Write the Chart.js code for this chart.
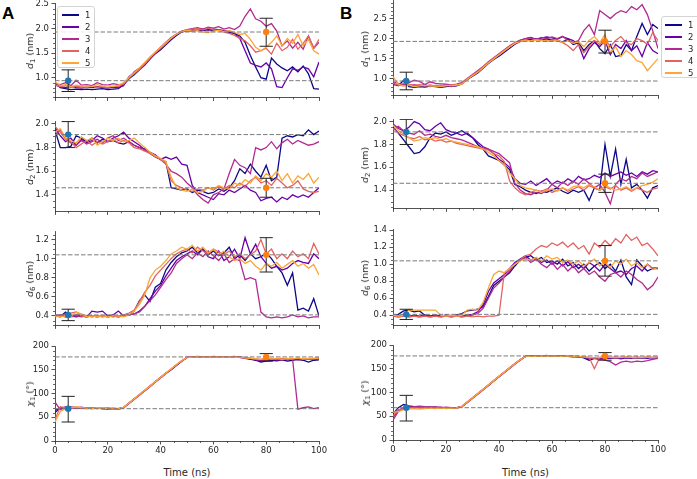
<!DOCTYPE html>
<html><head><meta charset="utf-8">
<script src="https://cdn.jsdelivr.net/npm/chart.js@4.4.0/dist/chart.umd.min.js"></script>
<style>
html,body{margin:0;padding:0;background:#fff;}
#fig{position:relative;width:697px;height:479px;overflow:hidden;background:#fff;font-family:'DejaVu Sans',sans-serif;color:#262626;}
#fig canvas{position:absolute;}
.ylab{position:absolute;font-size:9.5px;white-space:nowrap;transform:translate(-50%,-50%) rotate(-90deg);line-height:10px;}
.ylab sub{font-size:7px;vertical-align:-2px;line-height:0;}
.xlab{position:absolute;font-size:10px;white-space:nowrap;transform:translate(-50%,-50%);}
.letter{position:absolute;font-family:'Liberation Sans',Arial,sans-serif;font-weight:bold;font-size:17px;line-height:17px;color:#000;}
.legend{position:absolute;background:rgba(255,255,255,0.85);border:1px solid #d4d4d4;border-radius:3px;box-sizing:border-box;z-index:5;}
.legend .row{position:absolute;left:0;height:12px;width:100%;}
.legend .sw{position:absolute;top:5.5px;height:1.5px;width:17px;}
.legend .tx{position:absolute;top:0;font-size:8.5px;line-height:12px;color:#262626;}
</style>
</head><body>
<div id="fig">
  <div class="letter" style="left:2px;top:5px;">A</div>
  <div class="letter" style="left:340px;top:5px;">B</div>
</div>
<script>
// ---------- data ----------
const times = [0,2,4,6,8,10,12,14,16,18,20,22,24,26,28,30,32,34,36,38,40,42,44,46,48,50,52,54,56,58,60,62,64,66,68,70,72,74,76,78,80,82,84,86,88,90,92,94,96,98,100];
const runLabels = ['1','2','3','4','5'];
const runColors = ['#0d0887','#6a00a8','#b12a90','#e16462','#fca636'];
const xTicks = [0,20,40,60,80,100];

// d1, panel A
const a1_1 = [0.90,0.80,0.78,0.76,0.77,0.76,0.77,0.76,0.77,0.78,0.76,0.77,0.78,0.86,0.98,1.06,1.16,1.26,1.38,1.49,1.57,1.67,1.77,1.86,1.93,1.96,1.95,1.97,1.96,1.98,1.96,1.97,1.94,1.92,1.90,1.85,1.72,1.45,1.22,1.00,0.97,1.40,1.28,1.20,1.14,1.22,1.12,1.24,1.08,0.78,0.77];
const a1_2 = [0.85,0.82,0.80,0.83,0.80,0.79,0.81,0.80,0.82,0.80,0.79,0.81,0.80,0.84,1.02,1.10,1.18,1.30,1.40,1.50,1.60,1.70,1.79,1.88,1.94,1.97,1.98,1.96,1.99,1.97,1.99,1.98,1.96,1.95,1.90,1.80,1.55,1.30,1.25,1.22,1.30,1.18,0.82,0.80,1.00,1.18,1.15,1.22,1.18,1.02,1.32];
const a1_3 = [0.88,0.86,0.90,0.84,0.95,0.85,0.86,0.84,0.90,0.86,0.85,0.88,0.86,0.86,0.98,1.12,1.20,1.30,1.42,1.52,1.62,1.72,1.82,1.89,1.95,1.98,2.00,2.02,1.99,2.03,2.01,2.04,1.99,2.02,1.98,2.05,2.25,2.40,2.20,2.15,2.05,2.10,1.95,1.65,1.75,1.60,1.72,1.58,1.85,1.60,1.72];
const a1_4 = [0.86,0.82,0.84,0.80,0.83,0.82,0.80,0.83,0.81,0.82,0.80,0.83,0.82,0.88,1.00,1.08,1.17,1.28,1.40,1.51,1.60,1.69,1.80,1.88,1.94,1.97,1.99,2.00,1.97,2.01,1.98,1.96,1.93,1.90,1.86,1.80,1.75,1.65,1.52,1.55,1.60,1.48,1.70,1.55,1.62,1.78,1.58,1.70,1.85,1.60,1.78];
const a1_5 = [0.92,0.84,0.86,0.82,0.85,0.83,0.84,0.82,0.86,0.83,0.84,0.82,0.85,0.90,1.01,1.10,1.20,1.31,1.42,1.52,1.62,1.71,1.81,1.89,1.94,1.97,1.95,1.96,1.93,1.92,1.95,1.97,1.94,1.96,1.92,1.88,1.90,1.78,1.62,1.55,1.62,1.72,1.85,1.65,1.80,1.70,1.88,1.65,1.78,1.55,1.48];
// d1, panel B
const b1_1 = [0.88,0.82,0.96,0.80,0.78,0.80,0.79,0.81,0.80,0.78,0.80,0.82,0.82,0.88,0.97,1.06,1.14,1.26,1.38,1.48,1.56,1.66,1.76,1.86,1.93,1.97,1.98,2.00,1.96,1.99,1.97,1.95,1.92,1.98,1.85,1.90,1.70,1.85,1.95,1.75,1.62,1.85,1.55,1.58,1.85,1.70,2.05,2.38,2.10,2.35,2.25];
const b1_2 = [0.85,0.83,0.86,0.82,0.84,0.82,0.85,0.80,0.83,0.82,0.84,0.80,0.83,0.86,0.99,1.08,1.17,1.28,1.40,1.50,1.60,1.70,1.79,1.88,1.95,2.00,2.03,1.98,2.01,2.04,2.02,1.98,2.05,2.00,1.95,1.85,1.50,1.75,1.90,1.80,1.95,1.60,1.85,1.75,1.95,1.70,1.82,1.55,1.90,1.70,1.62];
const b1_3 = [0.92,0.88,0.85,0.90,0.96,0.93,0.85,0.92,0.88,0.87,0.86,0.84,0.86,0.90,1.00,1.10,1.20,1.30,1.42,1.52,1.62,1.72,1.82,1.90,1.96,2.00,2.02,1.98,2.03,2.00,2.04,2.00,2.06,1.95,1.90,1.95,2.20,2.35,2.10,2.70,2.60,2.50,2.62,2.70,2.65,2.80,2.72,2.85,2.60,2.20,1.75];
const b1_4 = [0.88,0.84,0.82,0.86,0.83,0.85,0.82,0.84,0.81,0.83,0.82,0.85,0.84,0.88,1.00,1.09,1.18,1.29,1.41,1.51,1.61,1.71,1.80,1.89,1.94,1.97,1.95,1.98,1.96,1.93,1.97,1.95,1.90,1.82,1.70,1.85,1.65,1.80,1.95,1.85,2.00,1.80,1.95,2.05,1.90,1.85,2.00,1.95,1.85,2.15,1.95];
const b1_5 = [1.05,0.86,0.82,0.84,0.80,0.82,0.83,0.81,0.82,0.80,0.83,0.82,0.84,0.86,0.98,1.07,1.16,1.27,1.39,1.49,1.59,1.69,1.79,1.88,1.93,1.96,1.94,1.97,1.95,1.96,1.93,1.96,1.90,1.95,1.88,1.92,1.80,1.95,2.05,1.90,2.10,1.65,1.80,1.55,1.70,1.60,1.45,1.40,1.20,1.35,1.50];

// d2, panel A
const a2_1 = [1.95,1.80,1.80,1.81,1.90,1.88,1.85,1.88,1.84,1.87,1.85,1.86,1.84,1.83,1.85,1.82,1.80,1.79,1.75,1.72,1.70,1.68,1.46,1.45,1.44,1.45,1.42,1.44,1.43,1.41,1.42,1.45,1.43,1.46,1.52,1.62,1.58,1.66,1.60,1.55,1.65,1.52,1.55,1.88,1.90,1.89,1.91,1.90,1.95,1.91,1.94];
const a2_2 = [1.97,1.90,1.85,1.88,1.82,1.87,1.84,1.86,1.90,1.88,1.85,1.88,1.90,1.93,1.88,1.85,1.82,1.78,1.76,1.74,1.70,1.72,1.70,1.72,1.66,1.65,1.48,1.42,1.40,1.38,1.36,1.41,1.40,1.44,1.42,1.45,1.48,1.44,1.42,1.35,1.37,1.38,1.34,1.38,1.36,1.40,1.38,1.40,1.38,1.42,1.46];
const a2_3 = [1.90,1.95,1.88,1.84,1.82,1.86,1.83,1.85,1.87,1.84,1.88,1.90,1.86,1.88,1.85,1.82,1.80,1.78,1.76,1.73,1.70,1.66,1.60,1.58,1.55,1.50,1.46,1.40,1.36,1.33,1.40,1.42,1.45,1.58,1.70,1.65,1.63,1.58,1.80,1.78,1.80,1.85,1.79,1.84,1.87,1.83,1.86,1.84,1.82,1.83,1.85];
const a2_4 = [1.98,1.93,1.87,1.85,1.80,1.83,1.86,1.82,1.85,1.83,1.85,1.87,1.84,1.86,1.84,1.80,1.79,1.77,1.75,1.72,1.70,1.67,1.52,1.48,1.46,1.44,1.43,1.45,1.44,1.46,1.44,1.47,1.45,1.48,1.46,1.50,1.47,1.52,1.55,1.50,1.52,1.48,1.54,1.50,1.46,1.48,1.52,1.45,1.43,1.42,1.43];
const a2_5 = [1.93,1.96,1.88,1.86,1.84,1.89,1.86,1.88,1.82,1.85,1.88,1.86,1.88,1.85,1.86,1.88,1.84,1.80,1.76,1.73,1.71,1.68,1.55,1.46,1.44,1.43,1.45,1.42,1.43,1.46,1.45,1.48,1.46,1.45,1.50,1.48,1.53,1.50,1.56,1.52,1.58,1.55,1.60,1.52,1.58,1.50,1.56,1.53,1.58,1.50,1.55];
// d2, panel B
const b2_1 = [1.95,1.90,1.84,1.78,1.72,1.73,1.78,1.86,1.90,1.89,1.91,1.88,1.90,1.92,1.89,1.86,1.80,1.76,1.70,1.68,1.66,1.62,1.58,1.45,1.43,1.40,1.38,1.37,1.39,1.38,1.40,1.42,1.39,1.37,1.40,1.38,1.40,1.31,1.42,1.40,1.80,1.52,1.76,1.45,1.67,1.42,1.45,1.40,1.33,1.42,1.44];
const b2_2 = [1.98,1.94,1.92,1.95,2.00,1.98,1.93,1.92,1.96,1.99,1.93,1.91,1.90,1.88,1.90,1.86,1.82,1.78,1.76,1.72,1.67,1.64,1.60,1.50,1.46,1.45,1.48,1.44,1.47,1.50,1.45,1.48,1.46,1.50,1.47,1.52,1.49,1.50,1.53,1.51,1.55,1.52,1.54,1.56,1.53,1.55,1.52,1.56,1.54,1.57,1.56];
const b2_3 = [1.93,1.96,1.92,1.90,1.89,1.92,1.88,1.89,1.87,1.86,1.88,1.86,1.85,1.84,1.82,1.80,1.78,1.77,1.76,1.74,1.72,1.68,1.64,1.46,1.40,1.37,1.36,1.38,1.37,1.40,1.45,1.42,1.47,1.44,1.48,1.45,1.50,1.46,1.42,1.45,1.38,1.28,1.45,1.50,1.48,1.52,1.50,1.55,1.52,1.54,1.56];
const b2_4 = [1.94,1.90,1.88,1.86,1.85,1.87,1.84,1.85,1.83,1.84,1.82,1.83,1.81,1.80,1.79,1.78,1.77,1.76,1.75,1.72,1.70,1.65,1.48,1.42,1.38,1.36,1.38,1.40,1.39,1.41,1.38,1.40,1.42,1.39,1.41,1.43,1.40,1.44,1.42,1.40,1.43,1.41,1.44,1.40,1.42,1.39,1.42,1.40,1.38,1.41,1.42];
const b2_5 = [1.97,1.92,1.89,1.86,1.83,1.84,1.86,1.85,1.86,1.84,1.85,1.83,1.82,1.81,1.80,1.79,1.78,1.76,1.73,1.70,1.66,1.62,1.55,1.50,1.44,1.42,1.41,1.40,1.38,1.40,1.41,1.39,1.42,1.40,1.43,1.44,1.42,1.45,1.43,1.40,1.44,1.42,1.40,1.41,1.43,1.40,1.42,1.44,1.45,1.47,1.50];

// d6, panel A
const a6_1 = [0.40,0.39,0.44,0.40,0.39,0.40,0.39,0.40,0.39,0.40,0.39,0.40,0.39,0.40,0.41,0.45,0.56,0.62,0.55,0.70,0.74,0.88,0.96,1.02,1.06,1.08,1.12,1.06,1.10,1.04,1.08,1.03,1.06,1.12,1.00,1.04,0.98,1.05,1.00,1.02,1.06,1.00,0.92,0.85,0.72,0.85,0.46,0.48,0.45,0.58,0.40];
const a6_2 = [0.40,0.41,0.39,0.40,0.41,0.40,0.39,0.45,0.44,0.45,0.40,0.41,0.45,0.40,0.41,0.42,0.45,0.50,0.58,0.66,0.72,0.82,0.90,0.98,1.02,1.05,1.08,1.04,1.10,1.02,1.00,1.08,0.98,1.02,1.10,1.00,1.22,1.05,1.15,1.02,0.95,0.90,0.92,0.88,0.90,0.95,0.98,0.96,0.95,1.05,1.00];
const a6_3 = [0.41,0.40,0.42,0.39,0.40,0.39,0.40,0.39,0.40,0.39,0.40,0.39,0.40,0.40,0.41,0.42,0.44,0.50,0.56,0.62,0.70,0.78,0.85,0.95,1.00,1.04,1.00,1.06,1.02,1.08,1.03,0.98,1.05,0.96,1.00,0.98,0.78,0.80,0.78,0.44,0.39,0.38,0.39,0.38,0.39,0.41,0.39,0.40,0.38,0.39,0.39];
const a6_4 = [0.39,0.40,0.39,0.43,0.44,0.40,0.39,0.40,0.39,0.40,0.39,0.40,0.39,0.41,0.43,0.46,0.55,0.65,0.72,0.82,0.88,0.94,1.00,1.05,1.08,1.10,1.06,1.12,1.08,1.05,1.10,1.07,1.04,1.08,1.02,1.05,1.00,1.04,1.08,1.20,1.05,1.10,1.00,1.05,1.00,1.08,1.02,1.05,1.00,1.16,1.05];
const a6_5 = [0.40,0.39,0.40,0.39,0.44,0.42,0.39,0.40,0.39,0.40,0.39,0.40,0.40,0.39,0.41,0.45,0.52,0.62,0.80,0.88,0.92,0.98,1.05,1.08,1.12,1.10,1.14,1.08,1.12,1.06,1.10,1.04,1.08,1.02,0.98,1.00,0.95,0.98,0.92,0.88,0.95,0.92,0.96,0.90,0.94,0.98,0.92,0.95,0.90,0.94,0.83];
// d6, panel B
const b6_1 = [0.40,0.41,0.45,0.46,0.44,0.45,0.40,0.39,0.40,0.39,0.40,0.39,0.40,0.42,0.45,0.46,0.47,0.50,0.62,0.75,0.80,0.85,0.90,0.98,1.05,1.08,1.10,1.05,1.08,1.02,1.04,1.00,1.06,0.98,1.02,0.95,1.00,0.92,0.98,1.02,0.95,1.00,0.92,1.05,0.85,0.76,1.05,0.98,0.92,0.95,0.95];
const b6_2 = [0.40,0.39,0.40,0.39,0.40,0.39,0.40,0.39,0.40,0.39,0.40,0.39,0.40,0.39,0.40,0.41,0.44,0.52,0.68,0.78,0.83,0.88,0.95,1.02,1.06,1.10,1.05,1.08,1.02,1.05,1.00,1.04,0.98,1.03,0.96,1.00,0.95,1.02,0.98,0.92,1.00,0.95,0.90,0.92,0.88,0.95,0.98,0.92,1.00,0.95,0.96];
const b6_3 = [0.39,0.38,0.39,0.38,0.39,0.38,0.39,0.38,0.39,0.38,0.39,0.38,0.39,0.38,0.39,0.40,0.42,0.48,0.60,0.72,0.78,0.85,0.92,1.00,1.05,1.08,1.02,1.06,1.00,0.96,1.02,0.94,1.00,0.92,0.98,0.90,0.95,0.88,0.92,0.85,0.80,0.88,0.90,0.85,0.92,0.88,0.82,0.78,0.70,0.75,0.85];
const b6_4 = [0.39,0.38,0.39,0.38,0.39,0.38,0.39,0.38,0.39,0.38,0.39,0.38,0.39,0.38,0.39,0.38,0.39,0.38,0.39,0.39,0.40,0.90,0.95,1.00,1.05,1.10,1.12,1.18,1.22,1.20,1.25,1.22,1.26,1.20,1.25,1.18,1.22,1.12,1.25,1.20,1.28,1.22,1.30,1.25,1.35,1.28,1.32,1.22,1.25,1.18,1.10];
const b6_5 = [0.40,0.39,0.40,0.46,0.46,0.46,0.46,0.46,0.46,0.40,0.39,0.40,0.39,0.40,0.46,0.47,0.46,0.55,0.72,0.88,0.92,0.90,0.95,1.00,1.04,1.06,1.05,1.08,1.04,1.10,1.06,1.08,1.02,1.05,1.00,1.04,0.98,1.02,1.06,0.98,1.02,0.96,1.04,1.00,1.06,0.98,1.02,0.96,1.00,0.94,0.96];

// chi1, panel A
const a4_1 = [60,70,68,71,70,69,70,68,69,68,67,68,67,70,79,88,97,106,115,124,133,142,150,159,168,176,176,177,176,177,176,177,176,177,176,177,175,173,170,166,168,170,169,171,168,170,172,170,166,170,171];
const a4_2 = [65,68,72,70,69,70,68,69,70,68,69,67,68,71,80,89,98,107,116,125,134,143,151,160,169,176,177,176,177,176,177,176,177,176,177,176,174,172,171,169,170,172,170,172,171,173,171,172,173,172,174];
const a4_3 = [82,66,70,71,70,71,69,70,68,69,68,69,68,70,79,88,97,106,115,124,133,142,151,160,168,176,177,178,177,176,178,177,176,177,178,176,175,174,172,170,171,173,172,171,173,172,67,70,72,68,70];
const a4_4 = [45,72,70,69,71,70,69,70,69,68,69,68,67,70,79,88,97,106,115,124,133,142,151,160,169,176,177,176,177,176,177,176,177,176,177,177,175,174,173,172,174,172,173,174,172,173,174,172,173,174,175];
const a4_5 = [40,62,68,70,72,70,69,68,70,69,68,67,68,71,80,89,98,107,116,125,134,143,152,161,169,176,176,177,176,177,176,177,176,177,176,176,175,174,173,172,175,173,174,172,174,173,175,173,174,173,175];
// chi1, panel B
const b4_1 = [55,68,75,72,70,69,68,69,68,67,68,67,68,70,79,88,97,106,115,124,133,142,151,160,169,176,176,177,176,177,176,177,176,176,175,176,173,168,172,170,172,173,172,174,173,174,172,173,174,173,174];
const b4_2 = [48,62,68,70,69,70,68,69,68,69,67,68,67,71,80,89,98,107,116,125,134,143,152,161,169,176,177,176,177,176,177,176,177,176,176,175,174,172,173,171,173,172,173,171,173,172,174,173,172,174,173];
const b4_3 = [42,60,66,69,70,71,70,69,70,68,69,68,67,70,79,88,97,106,115,124,133,142,151,160,168,176,177,176,177,178,176,177,176,177,176,175,174,173,172,171,168,165,158,164,166,164,166,165,167,170,172];
const b4_4 = [50,64,66,67,68,67,68,67,68,67,68,67,68,70,79,88,97,106,115,124,133,142,151,160,169,176,176,177,176,177,176,177,176,177,176,176,175,174,150,174,175,174,175,174,175,174,175,174,175,174,175];
const b4_5 = [58,60,64,65,66,65,66,67,66,67,66,67,67,71,80,89,98,107,116,125,134,143,152,161,169,176,176,176,177,176,177,176,176,177,176,176,175,174,173,174,175,174,173,174,175,174,173,174,175,174,175];

// reference lines and error-bar markers (x = 5 ns blue, x = 80 ns orange)
const errX = [5, 80];
const d1Ref = [0.94, 1.93], d1Lo = [0.72, 1.64], d1Hi = [1.16, 2.21];
const d2Ref = [1.91, 1.46], d2Lo = [1.80, 1.38], d2Hi = [2.02, 1.54];
const d6Ref = [0.41, 1.04], d6Lo = [0.35, 0.86], d6Hi = [0.47, 1.22];
const chiRef = [68, 177], chiLo = [40, 168], chiHi = [94, 184];

// tick labels
const d1TicksA = [1.0, 1.5, 2.0, 2.5];
const d1TicksB = [1.0, 1.5, 2.0, 2.5];
const d2Ticks = [1.4, 1.6, 1.8, 2.0];
const d6TicksA = [0.4, 0.6, 0.8, 1.0, 1.2];
const d6TicksB = [0.4, 0.6, 0.8, 1.0, 1.2, 1.4];
const chiTicks = [0, 50, 100, 150, 200];

// ---------- layout ----------
const fig = document.getElementById('fig');
Chart.defaults.font.family = "'DejaVu Sans', sans-serif";
const INK = '#262626';

const minorTicks = {
  id: 'minorTicks',
  afterDraw(chart, args, opts) {
    const {ctx, chartArea} = chart;
    const xs = chart.scales.x, ys = chart.scales.y;
    ctx.save();
    ctx.strokeStyle = INK; ctx.lineWidth = 0.7;
    ctx.beginPath();
    const n = Math.round((xs.max - xs.min) / opts.xStep);
    for (let k = 0; k <= n; k++) {
      const v = xs.min + k * opts.xStep;
      if (Math.abs(v / opts.xMajor - Math.round(v / opts.xMajor)) < 1e-6) continue;
      const px = Math.round(xs.getPixelForValue(v)) + 0.5;
      ctx.moveTo(px, chartArea.bottom); ctx.lineTo(px, chartArea.bottom + 2);
    }
    const k0 = Math.ceil(ys.min / opts.yStep - 1e-6), k1 = Math.floor(ys.max / opts.yStep + 1e-6);
    for (let k = k0; k <= k1; k++) {
      const v = k * opts.yStep;
      if (Math.abs(v / opts.yMajor - Math.round(v / opts.yMajor)) < 1e-6) continue;
      const py = Math.round(ys.getPixelForValue(v)) + 0.5;
      ctx.moveTo(chartArea.left, py); ctx.lineTo(chartArea.left - 2, py);
    }
    ctx.stroke();
    ctx.restore();
  }
};

const colL = {left: 55, right: 319, labX: 30};
const colR = {left: 393, right: 658, labX: 365};

const panels = [
  {col: colL, top: 3,   bottom: 99,  series: [a1_1,a1_2,a1_3,a1_4,a1_5], min: 0.60, max: 2.52, ticks: d1TicksA, major: 0.5, minor: 0.1, dec: 1, ref: d1Ref, lo: d1Lo, hi: d1Hi, ylab: '<i>d</i><sub>1</sub> (nm)', xl: false},
  {col: colL, top: 121, bottom: 213, series: [a2_1,a2_2,a2_3,a2_4,a2_5], min: 1.26, max: 2.025, ticks: d2Ticks, major: 0.2, minor: 0.05, dec: 1, ref: d2Ref, lo: d2Lo, hi: d2Hi, ylab: '<i>d</i><sub>2</sub> (nm)', xl: false},
  {col: colL, top: 231, bottom: 327, series: [a6_1,a6_2,a6_3,a6_4,a6_5], min: 0.30, max: 1.29, ticks: d6TicksA, major: 0.2, minor: 0.05, dec: 1, ref: d6Ref, lo: d6Lo, hi: d6Hi, ylab: '<i>d</i><sub>6</sub> (nm)', xl: false},
  {col: colL, top: 346, bottom: 441, series: [a4_1,a4_2,a4_3,a4_4,a4_5], min: 0, max: 200, ticks: chiTicks, major: 50, minor: 10, dec: 0, ref: chiRef, lo: chiLo, hi: chiHi, ylab: '<i>χ</i><sub>1</sub> (°)', xl: true},
  {col: colR, top: 0,   bottom: 97,  series: [b1_1,b1_2,b1_3,b1_4,b1_5], min: 0.58, max: 2.965, ticks: d1TicksB, major: 0.5, minor: 0.1, dec: 1, ref: d1Ref, lo: d1Lo, hi: d1Hi, ylab: '<i>d</i><sub>1</sub> (nm)', xl: false},
  {col: colR, top: 119, bottom: 210, series: [b2_1,b2_2,b2_3,b2_4,b2_5], min: 1.24, max: 2.023, ticks: d2Ticks, major: 0.2, minor: 0.05, dec: 1, ref: d2Ref, lo: d2Lo, hi: d2Hi, ylab: '<i>d</i><sub>2</sub> (nm)', xl: false},
  {col: colR, top: 229, bottom: 327, series: [b6_1,b6_2,b6_3,b6_4,b6_5], min: 0.28, max: 1.415, ticks: d6TicksB, major: 0.2, minor: 0.05, dec: 1, ref: d6Ref, lo: d6Lo, hi: d6Hi, ylab: '<i>d</i><sub>6</sub> (nm)', xl: false},
  {col: colR, top: 345, bottom: 440, series: [b4_1,b4_2,b4_3,b4_4,b4_5], min: 0, max: 200, ticks: chiTicks, major: 50, minor: 10, dec: 0, ref: chiRef, lo: chiLo, hi: chiHi, ylab: '<i>χ</i><sub>1</sub> (°)', xl: true}
];

function makePanel(p) {
  const YW = 40, PADT = 8, PADR = 12;
  const XH = p.xl ? 22 : 6;
  const plotW = p.col.right - p.col.left, plotH = p.bottom - p.top;
  const cw = YW + plotW + PADR, ch = PADT + plotH + XH;
  const cv = document.createElement('canvas');
  cv.width = cw; cv.height = ch;
  cv.style.left = (p.col.left - YW) + 'px';
  cv.style.top = (p.top - PADT) + 'px';
  cv.style.width = cw + 'px'; cv.style.height = ch + 'px';
  fig.appendChild(cv);

  const datasets = [];
  p.series.forEach((arr, i) => datasets.push({
    label: runLabels[i],
    data: times.map((t, k) => ({x: t, y: arr[k]})),
    borderColor: runColors[i], borderWidth: 1.3, pointRadius: 0,
    fill: false, tension: 0, order: 10 - i
  }));
  p.ref.forEach(v => datasets.push({
    data: [{x: 0, y: v}, {x: 100, y: v}],
    borderColor: '#7a7a7a', borderWidth: 1, borderDash: [4.5, 2],
    pointRadius: 0, fill: false, order: 5
  }));
  const capHalf = 2.5;
  const eb = [];
  errX.forEach((x, i) => {
    eb.push({x: x, y: p.lo[i]}, {x: x, y: p.hi[i]}, {x: x, y: null},
            {x: x - capHalf, y: p.hi[i]}, {x: x + capHalf, y: p.hi[i]}, {x: x, y: null},
            {x: x - capHalf, y: p.lo[i]}, {x: x + capHalf, y: p.lo[i]}, {x: x, y: null});
  });
  datasets.push({data: eb, borderColor: '#222', borderWidth: 1, pointRadius: 0, fill: false, spanGaps: false, order: 2});
  datasets.push({data: [{x: errX[0], y: p.ref[0]}], showLine: false, pointRadius: 3.2, pointBorderWidth: 0,
    pointBackgroundColor: '#1f77b4', order: 1});
  datasets.push({data: [{x: errX[1], y: p.ref[1]}], showLine: false, pointRadius: 3.2, pointBorderWidth: 0,
    pointBackgroundColor: '#ff7f0e', order: 0});

  new Chart(cv, {
    type: 'line',
    data: {datasets},
    plugins: [minorTicks],
    options: {
      responsive: false, animation: false, devicePixelRatio: 1, events: [],
      layout: {padding: {left: 0, right: PADR, top: PADT, bottom: 0}},
      plugins: {legend: {display: false}, tooltip: {enabled: false},
        minorTicks: {xStep: 5, xMajor: 20, yStep: p.minor, yMajor: p.major}},
      scales: {
        x: {
          type: 'linear', min: 0, max: 100,
          afterBuildTicks: s => { s.ticks = xTicks.map(v => ({value: v})); },
          afterFit: s => { s.height = XH; },
          ticks: {display: p.xl, font: {size: 8.5}, color: INK, padding: 1.5, maxRotation: 0, autoSkip: false,
                  callback: v => String(v)},
          grid: {display: true, drawOnChartArea: false, drawTicks: true, tickLength: 3.5, tickColor: INK, tickWidth: 0.8},
          border: {display: true, color: INK, width: 0.8}
        },
        y: {
          type: 'linear', min: p.min, max: p.max,
          afterBuildTicks: s => { s.ticks = p.ticks.map(v => ({value: v})); },
          afterFit: s => { s.width = YW; },
          ticks: {font: {size: 8.5}, color: INK, padding: 2.5, autoSkip: false,
                  callback: v => Number(v).toFixed(p.dec)},
          grid: {display: true, drawOnChartArea: false, drawTicks: true, tickLength: 3.5, tickColor: INK, tickWidth: 0.8},
          border: {display: true, color: INK, width: 0.8}
        }
      }
    }
  });

  const yl = document.createElement('div');
  yl.className = 'ylab';
  yl.innerHTML = p.ylab;
  yl.style.left = p.col.labX + 'px';
  yl.style.top = ((p.top + p.bottom) / 2) + 'px';
  fig.appendChild(yl);

  if (p.xl) {
    const xl = document.createElement('div');
    xl.className = 'xlab';
    xl.textContent = 'Time (ns)';
    xl.style.left = ((p.col.left + p.col.right) / 2) + 'px';
    xl.style.top = '472px';
    fig.appendChild(xl);
  }
}
panels.forEach(makePanel);

function makeLegend(left, top, width, swX, txX) {
  const box = document.createElement('div');
  box.className = 'legend';
  box.style.left = left + 'px'; box.style.top = top + 'px';
  box.style.width = width + 'px'; box.style.height = '62px';
  runLabels.forEach((lab, i) => {
    const row = document.createElement('div');
    row.className = 'row';
    row.style.top = (1.5 + 12 * i) + 'px';
    const sw = document.createElement('div');
    sw.className = 'sw'; sw.style.left = swX + 'px'; sw.style.background = runColors[i];
    const tx = document.createElement('div');
    tx.className = 'tx'; tx.style.left = txX + 'px'; tx.textContent = lab;
    row.appendChild(sw); row.appendChild(tx);
    box.appendChild(row);
  });
  fig.appendChild(box);
}
makeLegend(57, 6, 38, 4, 27);
makeLegend(661, 16, 40, 3, 26);
</script>
</body></html>
